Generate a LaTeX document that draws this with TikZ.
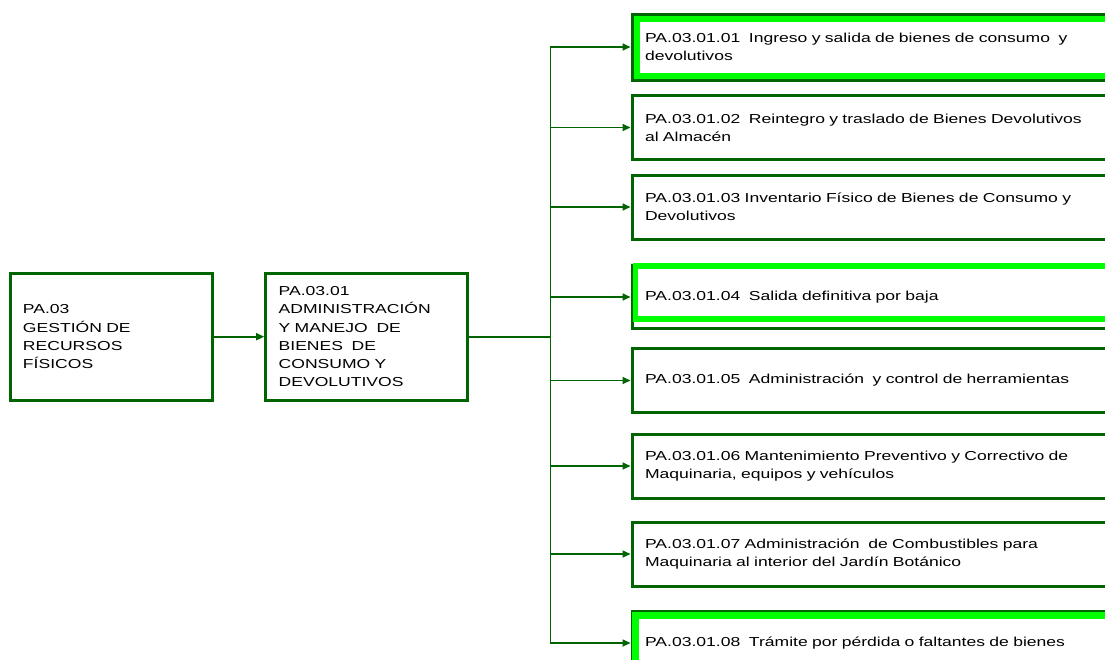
\documentclass[tikz,border=0pt]{standalone}
\usepackage{fontspec}
\setmainfont{Liberation Sans}[FakeStretch=1.35]
\usepackage{xcolor}
\usetikzlibrary{arrows.meta, calc, positioning}

\definecolor{boxGreen}{RGB}{0,100,0}
\definecolor{liteGreen}{RGB}{0,255,0}

\tikzset{
	box/.style = {draw = boxGreen, line width = 3pt, fill = white, align = left, inner xsep = 13pt, font = \fontsize{13}{18.3}\selectfont},
	bigBox/.style = {box, text width = 176pt, minimum height = 127pt},
	subBox/.style = {box, anchor = west, text width = 480pt, minimum height = 64pt},
	liteFrame/.style = {draw = liteGreen, line width = 6pt},
	link/.style = {draw = boxGreen, line width = 1.6pt},
	feed/.style = {link, -{Triangle[length = 8pt, width = 7pt]}},
}

\begin{document}
\begin{tikzpicture}[x = 1pt, y = -1pt]
		\useasboundingbox (0, 0) rectangle (1105, 659);
		\clip (0, 0) rectangle (1105, 659);

		% left column
		\node [bigBox] (gestion) at (111, 336.7) {PA.03\\GESTIÓN DE\\RECURSOS\\FÍSICOS};
		\node [bigBox, right = 50.7pt of gestion] (admin) {PA.03.01\\ADMINISTRACIÓN\\Y MANEJO~~DE\\BIENES~~DE\\CONSUMO Y\\DEVOLUTIVOS};
		\draw [feed] (gestion.east) -- (admin.east -| admin.west);
		\coordinate [right = 81.3pt of admin] (fork);
		\draw [link] (admin.east) -- (fork);

		% right column
		\node [subBox, minimum height = 66pt] (s1) at (630.5, 47) {PA.03.01.01~~Ingreso y salida de bienes de consumo~~y\\devolutivos};
		\node [subBox] (s2) at (630.5, 127.5) {PA.03.01.02~~Reintegro y traslado de Bienes Devolutivos\\al Almacén};
		\node [subBox] (s3) at (630.5, 207) {PA.03.01.03 Inventario Físico de Bienes de Consumo y\\Devolutivos};
		\node [subBox, minimum height = 63pt] (s4) at (630.5, 297) {PA.03.01.04~~Salida definitiva por baja};
		\node [subBox] (s5) at (630.5, 380.5) {PA.03.01.05~~Administración~~y control de herramientas};
		\node [subBox] (s6) at (630.5, 466) {PA.03.01.06 Mantenimiento Preventivo y Correctivo de\\Maquinaria, equipos y vehículos};
		\node [subBox] (s7) at (630.5, 554) {PA.03.01.07 Administración~~de Combustibles para\\Maquinaria al interior del Jardín Botánico};
		\node [subBox] (s8) at (630.5, 643) {PA.03.01.08~~Trámite por pérdida o faltantes de bienes};

		\draw [liteFrame] ($(s1.north west) + (6, 6)$) rectangle ($(s1.south east) + (-6, -6)$);
		\draw [liteFrame, line width = 5.5pt] ($(s4.north west) + (5, 2)$) rectangle ($(s4.south east) + (-5, -11)$);
		\draw [liteFrame, line width = 7pt] ($(s8.north west) + (5, 6)$) rectangle ($(s8.south east) + (-5, -6)$);

		\draw [link, line cap = rect] (fork |- s1.west) -- (fork |- s8.west);
		\draw [feed] (fork |- s1.west) -- (s1.west);
		\draw [feed] (fork |- s2.west) -- (s2.west);
		\draw [feed] (fork |- s3.west) -- (s3.west);
		\draw [feed] (fork |- s4.west) -- (s4.west);
		\draw [feed] (fork |- s5.west) -- (s5.west);
		\draw [feed] (fork |- s6.west) -- (s6.west);
		\draw [feed] (fork |- s7.west) -- (s7.west);
		\draw [feed] (fork |- s8.west) -- (s8.west);
	\end{tikzpicture}
\end{document}
